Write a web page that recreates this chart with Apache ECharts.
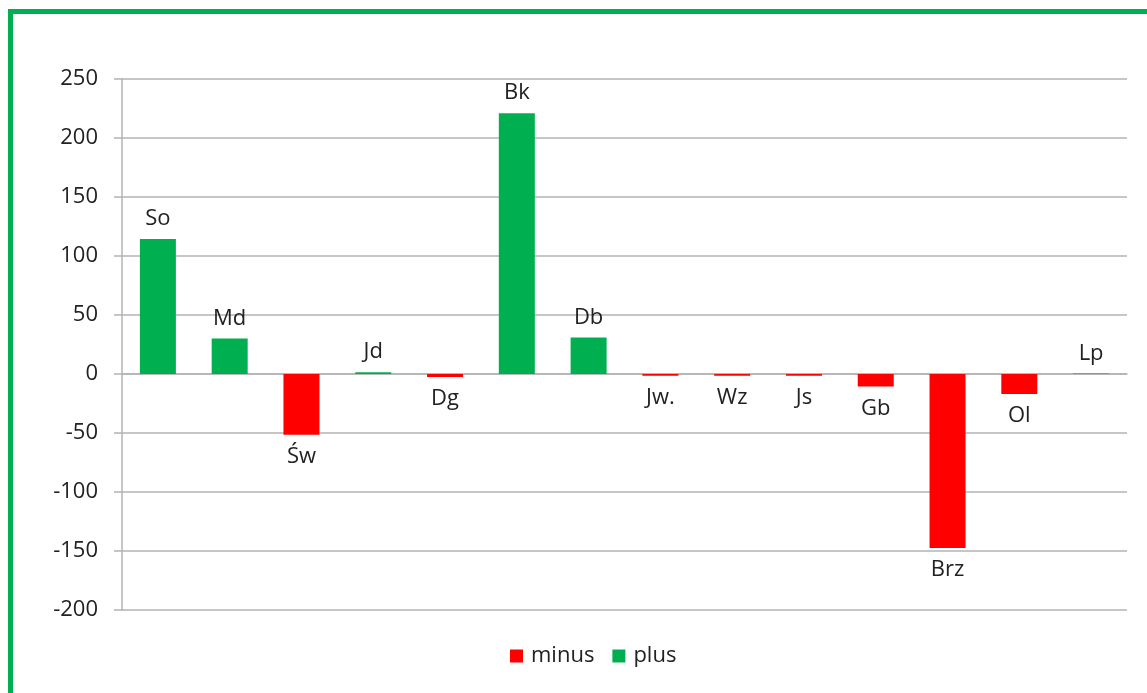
<!DOCTYPE html>
<html>
<head>
<meta charset="utf-8">
<script src="https://cdn.jsdelivr.net/npm/echarts@6/dist/echarts.min.js"></script>
<style>
html,body{margin:0;padding:0;background:#fff;}
#c{width:1147px;height:693px;}
</style>
</head>
<body>
<div id="c"></div>
<script>
const categories = ['So','Md','Św','Jd','Dg','Bk','Db','Jw.','Wz','Js','Gb','Brz','Ol','Lp'];
const minusValues = [null, null, -51.5, null, -2.5, null, null, -1.5, -1.5, -1.5, -10.5, -147.5, -17, null];
const plusValues  = [114.5, 30, null, 1.5, null, 221, 31, null, null, null, null, null, null, 0.5];
const yTicks = { min: -200, max: 250, interval: 50 };

const FONT = 'Open Sans';
const chart = echarts.init(document.getElementById('c'), null, {renderer: 'canvas'});
const labelStyle = {
  show: true,
  formatter: p => p.name,
  fontFamily: FONT,
  fontSize: 22,
  color: '#222'
};
chart.setOption({
  animation: false,
  backgroundColor: '#fff',
  graphic: [{
    type: 'rect',
    shape: {x: 10.5, y: 11.5, width: 1200, height: 800},
    style: {fill: 'none', stroke: '#00b050', lineWidth: 5}
  }],
  grid: {left: 122, right: 20, top: 79, bottom: 83, containLabel: false},
  legend: {
    bottom: 21,
    left: 505,
    itemWidth: 13,
    itemHeight: 13,
    itemGap: 18,
    icon: 'rect',
    textStyle: {fontFamily: FONT, fontSize: 22, color: '#222', padding: [0, 0, 0, 3]},
    data: ['minus', 'plus']
  },
  xAxis: {
    type: 'category',
    data: categories,
    axisLine: {show: true, onZero: true, lineStyle: {color: '#b3b3b3', width: 1.5}},
    axisTick: {show: false},
    axisLabel: {show: false},
    splitLine: {show: false}
  },
  yAxis: {
    type: 'value',
    min: yTicks.min,
    max: yTicks.max,
    interval: yTicks.interval,
    axisLine: {show: true, lineStyle: {color: '#b3b3b3', width: 1.5}},
    axisTick: {show: true, inside: false, length: 8, lineStyle: {color: '#b3b3b3', width: 1.5}},
    axisLabel: {fontFamily: FONT, fontSize: 22, color: '#222', margin: 24},
    splitLine: {show: true, lineStyle: {color: '#b3b3b3', width: 1.5}}
  },
  series: [
    {
      name: 'minus',
      type: 'bar',
      data: minusValues,
      barWidth: 36,
      barGap: '-100%',
      itemStyle: {color: '#ff0000'},
      label: Object.assign({}, labelStyle, {position: 'bottom', distance: 11})
    },
    {
      name: 'plus',
      type: 'bar',
      data: plusValues,
      barWidth: 36,
      barGap: '-100%',
      itemStyle: {color: '#00b050'},
      label: Object.assign({}, labelStyle, {position: 'top', distance: 9})
    }
  ]
});
</script>
</body>
</html>
